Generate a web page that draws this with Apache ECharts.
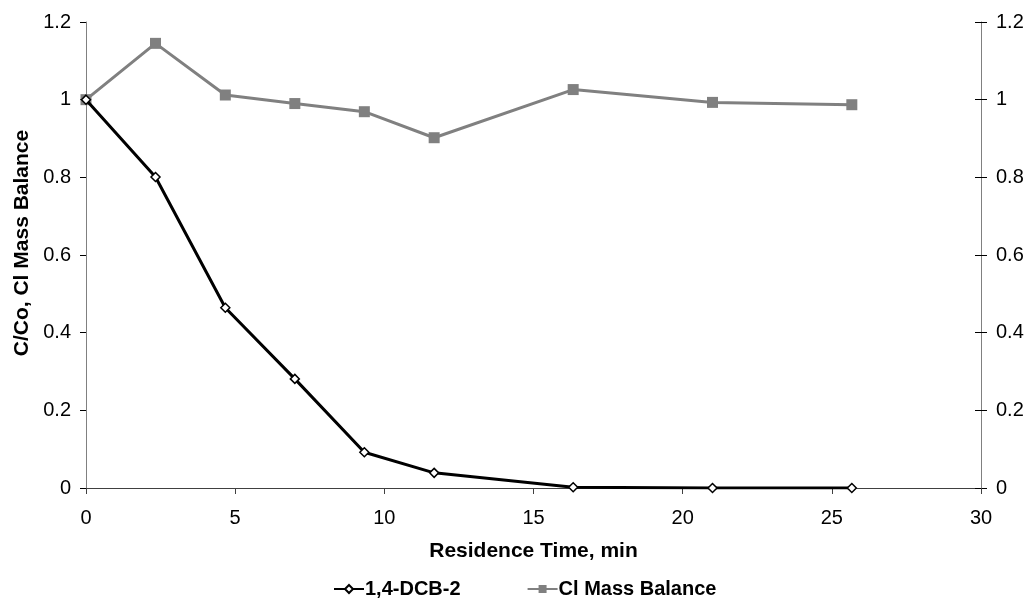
<!DOCTYPE html>
<html>
<head>
<meta charset="utf-8">
<script src="https://cdn.jsdelivr.net/npm/echarts@6/dist/echarts.min.js"></script>
<style>
  html, body { margin: 0; padding: 0; background: #fff; }
  #chart { width: 1027px; height: 608px; }
</style>
</head>
<body>
<div id="chart"></div>
<script>
// Residence time (min)
const residenceTime = [0, 2.33, 4.67, 7.0, 9.33, 11.67, 16.33, 21.0, 25.67];
// Normalised concentration C/Co of 1,4-DCB
const dcb2 = [1, 0.801, 0.464, 0.281, 0.092, 0.039, 0.002, 0, 0];
// Chlorine mass balance
const clMassBalance = [1, 1.145, 1.012, 0.990, 0.969, 0.902, 1.026, 0.993, 0.987];

const seriesNames = ['1,4-DCB-2', 'Cl Mass Balance'];
const xTitle = 'Residence Time, min';
const yTitle = 'C/Co, Cl Mass Balance';

const FONT = '"Liberation Sans", Arial, sans-serif';

const pairs = (xs, ys) => xs.map((x, i) => [x, ys[i]]);

const chart = echarts.init(document.getElementById('chart'), null, { renderer: 'canvas' });

const yCommon = {
  type: 'value', min: 0, max: 1.2, interval: 0.2,
  splitLine: { show: false }
};

chart.setOption({
  animation: false,
  backgroundColor: '#ffffff',
  textStyle: { fontFamily: FONT },
  grid: { left: 86, right: 46, top: 22, bottom: 120, containLabel: false },
  legend: {
    left: 328, top: 574,
    itemWidth: 30, itemHeight: 10, itemGap: 66,
    textStyle: { fontFamily: FONT, fontSize: 20, fontWeight: 'bold', color: '#000', padding: [0, 0, 0, -4] },
    data: seriesNames
  },
  xAxis: {
    type: 'value', min: 0, max: 30, interval: 5,
    name: xTitle, nameLocation: 'middle', nameGap: 53,
    nameTextStyle: { fontFamily: FONT, fontSize: 21, fontWeight: 'bold', color: '#000' },
    axisLine: { show: true, onZero: false, lineStyle: { color: '#404040', width: 1 } },
    axisTick: { show: true, inside: false, length: 6, lineStyle: { color: '#404040' } },
    axisLabel: { margin: 20, fontFamily: FONT, fontSize: 20, color: '#000' },
    splitLine: { show: false }
  },
  yAxis: [
    Object.assign({}, yCommon, {
      position: 'left',
      name: yTitle, nameLocation: 'middle', nameGap: 52, nameRotate: 90,
      nameTextStyle: { fontFamily: FONT, fontSize: 21, fontWeight: 'bold', color: '#000', padding: [0, 0, 0, 24] },
      axisLine: { show: true, lineStyle: { color: '#808080', width: 1 } },
      axisTick: { show: true, inside: false, length: 6, lineStyle: { color: '#000' } },
      axisLabel: { margin: 15, fontFamily: FONT, fontSize: 20, color: '#000' }
    }),
    Object.assign({}, yCommon, {
      position: 'right',
      axisLine: { show: true, lineStyle: { color: '#808080', width: 1 } },
      axisTick: { show: true, inside: false, length: 6, lineStyle: { color: '#000' } },
      axisLabel: { margin: 15, fontFamily: FONT, fontSize: 20, color: '#000' }
    }),
    // inner half of the cross ticks on the right-hand axis
    Object.assign({}, yCommon, {
      position: 'right',
      axisLine: { show: false },
      axisTick: { show: true, inside: true, length: 6, lineStyle: { color: '#000' } },
      axisLabel: { show: false }
    })
  ],
  series: [
    {
      name: seriesNames[0], type: 'line', yAxisIndex: 0,
      data: pairs(residenceTime, dcb2),
      symbol: 'diamond', symbolSize: 9, z: 3,
      lineStyle: { color: '#000', width: 3 },
      itemStyle: { color: '#fff', borderColor: '#000', borderWidth: 1.5 }
    },
    {
      name: seriesNames[1], type: 'line', yAxisIndex: 1,
      data: pairs(residenceTime, clMassBalance),
      symbol: 'rect', symbolSize: 11, z: 2,
      lineStyle: { color: '#808080', width: 3 },
      itemStyle: { color: '#808080', borderColor: '#808080', borderWidth: 0 }
    }
  ]
});
</script>
</body>
</html>
